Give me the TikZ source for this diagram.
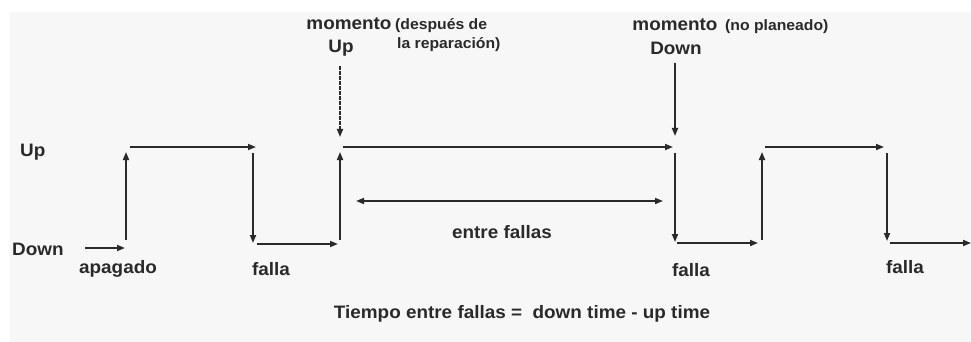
\documentclass[tikz,border=0pt]{standalone}
\usepackage{fontspec}
\setmainfont{Liberation Sans}[FakeStretch=1.05]
\usetikzlibrary{arrows.meta}
\definecolor{ink}{HTML}{2A2A2A}
\definecolor{bg}{HTML}{F7F7F7}
\tikzset{
  sig/.style={draw=ink, line width=1.7pt, -{Triangle[length=8pt,width=6pt]}},
  sigdot/.style={sig, dash pattern=on 2pt off 0.5pt},
  lab/.style={inner sep=0pt, text=ink, font=\fontsize{18}{20}\selectfont\bfseries, anchor=base},
  small/.style={inner sep=0pt, text=ink, font=\fontsize{15}{17}\selectfont\bfseries, anchor=base west},
}
\begin{document}
\begin{tikzpicture}[x=1pt,y=-1pt]
\useasboundingbox (0,0) rectangle (971,342);
\fill[bg] (10,12) rectangle (971,342);
% coordinates of waveform
\coordinate (s0) at (85,248);   \coordinate (e0) at (125,248);
\coordinate (s1) at (126,240);  \coordinate (e1) at (126,152);
\coordinate (s2) at (130,147);  \coordinate (e2) at (256,147);
\coordinate (s3) at (253,153);  \coordinate (e3) at (253,243);
\coordinate (s4) at (257,244);  \coordinate (e4) at (338,244);
\coordinate (s5) at (340,240);  \coordinate (e5) at (340,152);
\coordinate (s6) at (343,147);  \coordinate (e6) at (673,147);
\coordinate (s7) at (675,153);  \coordinate (e7) at (675,242);
\coordinate (s8) at (677,243);  \coordinate (e8) at (758,243);
\coordinate (s9) at (762,240);  \coordinate (e9) at (762,152);
\coordinate (s10) at (765,147); \coordinate (e10) at (884,147);
\coordinate (s11) at (887,153); \coordinate (e11) at (887,241);
\coordinate (s12) at (890,243); \coordinate (e12) at (971,243);
\coordinate (m1s) at (340,66);  \coordinate (m1e) at (340,137);
\coordinate (m2s) at (675,63);  \coordinate (m2e) at (675,136);
\coordinate (ba) at (356,201);  \coordinate (bb) at (663,201);
\foreach \i in {0,...,12} {\draw[sig] (s\i) -- (e\i);}
\draw[sigdot] (m1s) -- (m1e);
\draw[sig] (m2s) -- (m2e);
\draw[draw=ink, line width=1.7pt, {Triangle[length=8pt,width=6pt]}-{Triangle[length=8pt,width=6pt]}] (ba) -- (bb);
% labels
\node[lab, anchor=base west] (lup) at (20,157) {Up};
\node[lab, anchor=base west] (ldown) at (12,255) {Down};
\node[lab] (apag) at (118,273) {apagado};
\node[lab] (f1) at (271,275) {falla};
\node[lab] (f2) at (691,276) {falla};
\node[lab] (f3) at (905,273) {falla};
\node[lab] (ef) at (502,238) {entre fallas};
\node[lab] (mom1) at (349,30) {momento};
\node[lab] (up1) at (341,53) {Up};
\node[small] (desp) at (395,30) {(después de};
\node[small] (rep) at (397,49) {la reparación)};
\node[lab] (mom2) at (675,31) {momento};
\node[small] (nopl) at (725,31) {(no planeado)};
\node[lab] (down2) at (676,55) {Down};
\node[lab] (form) at (522,318) {Tiempo entre fallas =\ \ down time - up time};
\end{tikzpicture}
\end{document}
